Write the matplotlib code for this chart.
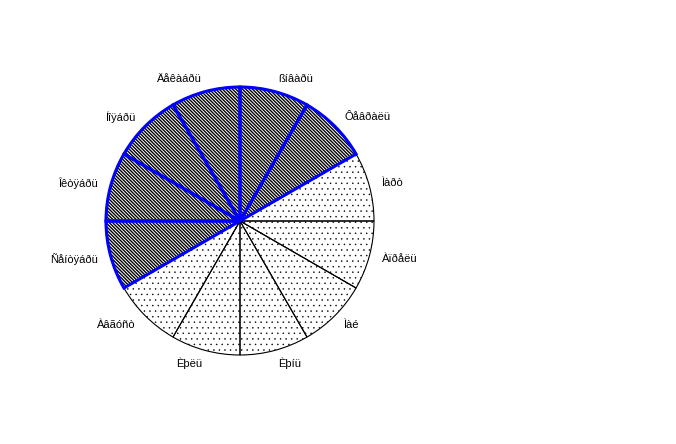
import matplotlib
matplotlib.use('Agg')
import matplotlib.pyplot as plt

# slices counter-clockwise from 3 o'clock
labels = ["Ìàðò", "Ôåâðàëü", "ßíâàðü", "Äåêàáðü", "Íîÿáðü", "Îêòÿáðü",
          "Ñåíòÿáðü", "Àâãóñò", "Èþëü", "Èþíü", "Ìàé", "Àïðåëü"]
values = [1, 1, 1, 1, 1, 1, 1, 1, 1, 1, 1, 1]
shaded = [False, True, True, True, True, True, True, False, False, False, False, False]

W, H = 676, 444
R = 134          # radius in px
cx, cy = 240, 221  # centre in px (from top)
span = 1.6

fig = plt.figure(figsize=(W / 100, H / 100), dpi=100)
side = 2 * span * R
ax = fig.add_axes([(cx - side / 2) / W, (H - cy - side / 2) / H, side / W, side / H])

# fill layer with hatching
wedges, texts = ax.pie(values, labels=labels, startangle=0, counterclock=True,
                       radius=1, labeldistance=1.1, frame=True,
                       wedgeprops=dict(facecolor='white', edgecolor='black', linewidth=0),
                       textprops=dict(fontsize=8, family='Liberation Sans'))
for w, s in zip(wedges, shaded):
    if s:
        w.set_hatch('\\' * 10)
        if hasattr(w, 'set_hatch_linewidth'):
            w.set_hatch_linewidth(1.0)
    else:
        w.set_hatch('...')
        if hasattr(w, 'set_hatch_linewidth'):
            w.set_hatch_linewidth(0.3)

# outline layer: thin black first, then thick blue on top
w2, _ = ax.pie(values, startangle=0, counterclock=True, radius=1, frame=True,
               wedgeprops=dict(facecolor='none', edgecolor='black', linewidth=0.8))
for w, s in zip(w2, shaded):
    if s:
        w.set_visible(False)
w3, _ = ax.pie(values, startangle=0, counterclock=True, radius=1, frame=True,
               wedgeprops=dict(facecolor='none', edgecolor='#0000ff', linewidth=2.2))
for w, s in zip(w3, shaded):
    w.set_visible(s)
    w.set_joinstyle('miter')

ax.set_xlim(-span, span)
ax.set_ylim(-span, span)
ax.set_aspect('equal')
ax.axis('off')

fig.savefig('out.png', dpi=100)
